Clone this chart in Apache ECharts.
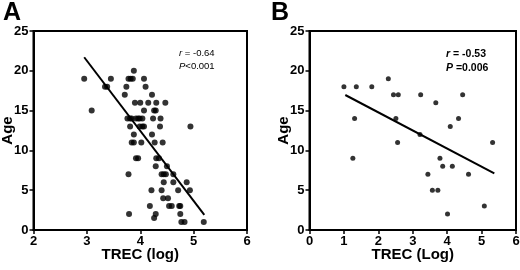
<!DOCTYPE html>
<html>
<head>
<meta charset="utf-8">
<script src="https://cdn.jsdelivr.net/npm/echarts@6/dist/echarts.min.js"></script>
<style>
  html, body { margin: 0; padding: 0; background: #fff; }
  #chart { width: 520px; height: 270px; }
</style>
</head>
<body>
<div id="chart"></div>
<script>
// panel A: TREC (log) vs age
const pointsA = [
  [2.95, 19], [3.09, 15], [3.34, 18], [3.38, 18], [3.45, 19], [3.71, 17], [3.74, 18],
  [3.78, 19], [3.82, 19], [3.86, 19], [3.88, 20], [3.90, 16], [3.76, 14], [3.81, 14],
  [3.84, 14], [3.81, 13], [3.88, 12], [3.84, 11], [3.88, 11], [3.92, 14], [3.96, 14],
  [3.92, 9], [3.96, 9], [3.78, 7], [3.79, 2], [4.00, 16], [3.99, 14], [4.04, 14],
  [3.99, 13], [4.04, 13], [4.07, 13], [4.02, 11], [4.07, 15], [4.07, 19], [4.10, 18],
  [4.15, 16], [4.22, 17], [4.26, 15], [4.29, 15], [4.24, 14], [4.22, 12], [4.27, 11],
  [4.30, 16], [4.30, 9], [4.35, 9], [4.29, 8], [4.38, 14], [4.37, 13], [4.47, 16],
  [4.42, 11], [4.40, 7], [4.44, 7], [4.48, 7], [4.44, 6], [4.40, 5], [4.50, 8],
  [4.43, 4], [4.52, 4], [4.54, 3], [4.59, 3], [4.62, 7], [4.62, 6], [4.71, 5],
  [4.73, 3], [4.75, 3], [4.75, 2], [4.77, 1], [4.83, 1], [4.94, 13], [4.87, 6],
  [4.93, 5], [5.19, 1], [4.18, 3], [4.21, 5], [4.26, 1.5], [4.29, 2]
]
const lineA = [[2.95, 21.7], [5.2, 1.9]]
const ticksXA = [2, 3, 4, 5, 6]

// panel B
const pointsB = [
  [1.00, 18], [1.36, 18], [1.81, 18], [2.29, 19], [2.44, 17], [2.58, 17], [1.31, 14],
  [1.26, 9], [2.51, 14], [2.56, 11], [3.23, 17], [3.21, 12], [3.67, 16], [4.45, 17],
  [4.09, 13], [4.33, 14], [5.32, 11], [3.79, 9], [3.87, 8], [4.15, 8], [3.44, 7],
  [4.62, 7], [3.57, 5], [3.73, 5], [4.01, 2], [5.08, 3]
]
const lineB = [[1.04, 16.96], [5.37, 7.1]]
const ticksXB = [0, 1, 2, 3, 4, 5, 6]
const ticksY = [0, 5, 10, 15, 20, 25]

const font = "'Liberation Sans', Arial, sans-serif"
const chart = echarts.init(document.getElementById('chart'), null, { renderer: 'canvas' })

const xAxis = function (gridIndex, ticks, name) {
  return {
    gridIndex,
    type: 'value',
    min: ticks[0],
    max: ticks[ticks.length - 1],
    interval: 1,
    name,
    nameLocation: 'middle',
    nameGap: 17,
    nameMoveOverlap: false,
    nameTextStyle: { color: '#000', fontFamily: font, fontWeight: 'bold', fontSize: 15, verticalAlign: 'top' },
    axisLine: { show: true, lineStyle: { color: '#000', width: 2 } },
    axisTick: { show: true, length: 4, lineStyle: { color: '#000', width: 1.5 } },
    axisLabel: { color: '#000', fontFamily: font, fontWeight: 'bold', fontSize: 13, margin: 5 },
    splitLine: { show: false }
  }
}
const yAxis = function (gridIndex) {
  return {
    gridIndex,
    type: 'value',
    min: ticksY[0],
    max: ticksY[ticksY.length - 1],
    interval: 5,
    name: 'Age',
    nameLocation: 'middle',
    nameGap: 18,
    nameMoveOverlap: false,
    nameTextStyle: { color: '#000', fontFamily: font, fontWeight: 'bold', fontSize: 15 },
    axisLine: { show: true, lineStyle: { color: '#000', width: 2 } },
    axisTick: { show: true, length: 4, lineStyle: { color: '#000', width: 1.5 } },
    axisLabel: { color: '#000', fontFamily: font, fontWeight: 'bold', fontSize: 13, margin: 5 },
    splitLine: { show: false }
  }
}
const gridStyle = {
  show: true, borderColor: '#000', borderWidth: 2, backgroundColor: 'transparent',
  containLabel: false, outerBoundsMode: 'none'
}

chart.setOption({
  animation: false,
  grid: [
    Object.assign({ left: 33.5, top: 31, width: 213.5, height: 199 }, gridStyle),
    Object.assign({ left: 309.5, top: 31, width: 206.5, height: 199 }, gridStyle)
  ],
  xAxis: [xAxis(0, ticksXA, 'TREC (log)'), xAxis(1, ticksXB, 'TREC (Log)')],
  yAxis: [yAxis(0), yAxis(1)],
  series: [
    { type: 'scatter', xAxisIndex: 0, yAxisIndex: 0, data: pointsA, symbolSize: 6, itemStyle: { color: '#000' } },
    { type: 'line', xAxisIndex: 0, yAxisIndex: 0, data: lineA, symbol: 'none', lineStyle: { color: '#000', width: 2 } },
    { type: 'scatter', xAxisIndex: 1, yAxisIndex: 1, data: pointsB, symbolSize: 5, itemStyle: { color: '#000' } },
    { type: 'line', xAxisIndex: 1, yAxisIndex: 1, data: lineB, symbol: 'none', lineStyle: { color: '#000', width: 2 } }
  ],
  graphic: [
    { type: 'text', left: 3, top: 1, style: { text: 'A', fontFamily: font, fontWeight: 'bold', fontSize: 25, fill: '#000' } },
    { type: 'text', left: 271, top: 1, style: { text: 'B', fontFamily: font, fontWeight: 'bold', fontSize: 25, fill: '#000' } },
    {
      type: 'text', left: 179, top: 47,
      style: {
        text: '{i|r} = -0.64\n{i|P}<0.001', fontFamily: font, fontSize: 9.5, fill: '#000', lineHeight: 13,
        rich: { i: { fontStyle: 'italic', fontFamily: font, fontSize: 9.5 } }
      }
    },
    {
      type: 'text', left: 446, top: 47,
      style: {
        text: '{i|r} = -0.53\n{i|P} =0.006', fontFamily: font, fontWeight: 'bold', fontSize: 10.5, fill: '#000', lineHeight: 14,
        rich: { i: { fontStyle: 'italic', fontWeight: 'bold', fontFamily: font, fontSize: 10.5 } }
      }
    }
  ]
})
</script>
</body>
</html>
